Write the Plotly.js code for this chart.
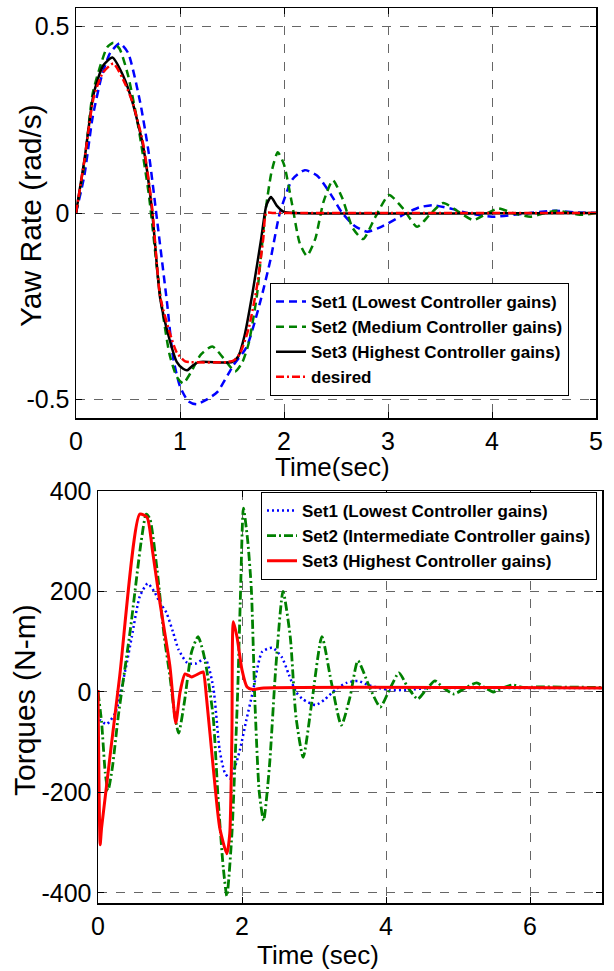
<!DOCTYPE html>
<html>
<head>
<meta charset="utf-8">
<script src="https://cdn.plot.ly/plotly-3.0.1.min.js"></script>
<style>html,body{margin:0;padding:0;background:#fff;}#chart{width:614px;height:971px;}</style>
</head>
<body>
<div id="chart"></div>
<script>
// ---------- Top chart: yaw rate (rad/s) ----------
const yawTickVals = [-0.5, 0, 0.5];
const yawTickText = ['-0.5', '0', '0.5'];
const timeTicksTop = [0, 1, 2, 3, 4, 5];

const set1YawT = [0,0.08,0.16,0.25,0.33,0.42,0.5,0.615,0.7,0.78,0.875,0.935,1.0,1.08,1.16,1.26,1.36,1.51,1.64,1.77,1.87,1.96,2.08,2.2,2.32,2.45,2.56,2.68,2.8,2.95,3.18,3.3,3.43,3.6,3.76,4.0,4.3,4.6,4.8,5];
const set1YawV = [0,0.1,0.257,0.37,0.43,0.455,0.43,0.30,0.16,-0.02,-0.24,-0.39,-0.465,-0.505,-0.513,-0.5,-0.48,-0.41,-0.36,-0.24,-0.125,0,0.09,0.115,0.1,0.05,0,-0.035,-0.05,-0.035,0,0.015,0.021,0.012,0,-0.01,-0.002,0.006,0.002,0];

const set2YawT = [0,0.08,0.16,0.24,0.30,0.36,0.42,0.5,0.6,0.7,0.8,0.9,0.97,1.03,1.1,1.2,1.31,1.42,1.53,1.6,1.66,1.74,1.82,1.88,1.94,2.0,2.08,2.15,2.22,2.3,2.38,2.47,2.56,2.66,2.76,2.88,3.01,3.15,3.28,3.4,3.53,3.68,3.82,3.94,4.06,4.2,4.37,4.5,4.62,4.75,4.87,5];
const set2YawV = [0,0.13,0.32,0.40,0.445,0.457,0.44,0.37,0.23,0.05,-0.2,-0.38,-0.44,-0.457,-0.43,-0.38,-0.358,-0.39,-0.425,-0.40,-0.35,-0.22,0,0.11,0.163,0.13,0.02,-0.08,-0.115,-0.07,0.03,0.088,0.04,-0.04,-0.07,-0.01,0.048,0.01,-0.037,-0.005,0.027,0.003,-0.019,-0.003,0.012,0,-0.01,-0.001,0.006,0,-0.005,0];

const set3YawT = [0,0.08,0.17,0.26,0.35,0.45,0.54,0.645,0.73,0.81,0.90,0.97,1.03,1.07,1.12,1.18,1.50,1.56,1.62,1.70,1.78,1.83,1.875,1.93,2.0,2.1,5];
const set3YawV = [0,0.14,0.32,0.395,0.417,0.37,0.30,0.18,0.01,-0.23,-0.34,-0.40,-0.418,-0.422,-0.41,-0.40,-0.40,-0.385,-0.33,-0.21,-0.07,0.02,0.043,0.02,0.003,0,0];

const desiredT = [0,0.08,0.17,0.26,0.36,0.45,0.54,0.645,0.73,0.81,0.90,0.97,1.05,1.1,1.45,1.52,1.58,1.66,1.74,1.80,1.83,1.9,5];
const desiredV = [0,0.14,0.31,0.377,0.401,0.36,0.30,0.187,0.02,-0.225,-0.32,-0.375,-0.398,-0.40,-0.40,-0.395,-0.375,-0.31,-0.197,-0.07,0,0,0];

// ---------- Bottom chart: torques (N-m) ----------
const torqueTickVals = [-400, -200, 0, 200, 400];
const torqueTickText = ['-400', '-200', '0', '200', '400'];
const timeTicksBottom = [0, 2, 4, 6];

const set1TqT = [0,0.03,0.12,0.24,0.38,0.47,0.58,0.69,0.78,0.86,0.95,1.04,1.12,1.24,1.35,1.49,1.6,1.69,1.76,1.83,1.9,1.97,2.06,2.15,2.28,2.42,2.55,2.65,2.75,2.85,3.02,3.15,3.3,3.45,3.61,3.75,3.9,4.05,4.29,4.6,5,7];
const set1TqV = [-45,-56,-64,-42,44,110,190,216,200,178,158,120,84,58,56,66,10,-116,-160,-172,-150,-116,-56,0,80,88,70,35,0,-15,-26,-15,5,18,22,14,8,4,4,8,8,8];

const set2TqT = [0,0.05,0.1,0.14,0.2,0.28,0.45,0.6,0.67,0.72,0.82,0.92,1.0,1.07,1.12,1.2,1.3,1.39,1.46,1.51,1.6,1.67,1.74,1.79,1.86,1.9,1.94,1.98,2.02,2.08,2.13,2.18,2.24,2.3,2.38,2.47,2.57,2.67,2.75,2.85,2.97,3.11,3.24,3.38,3.5,3.61,3.77,3.92,4.05,4.18,4.3,4.44,4.56,4.68,4.8,4.94,5.1,5.26,5.38,5.49,5.62,5.76,5.9,6.1,7];
const set2TqV = [0,-60,-160,-196,-150,-50,125,300,354,345,244,110,30,-50,-82,-20,80,110,80,44,-50,-216,-350,-406,-282,-150,0,200,366,300,204,-22,-200,-256,-150,50,200,110,-50,-130,-20,110,20,-66,-10,62,10,-30,5,38,10,-14,5,22,8,-4,8,18,8,0,8,14,9,10,9];

const set3TqT = [0,0.015,0.03,0.05,0.3,0.58,0.68,0.76,0.86,1.0,1.08,1.14,1.21,1.3,1.42,1.46,1.51,1.6,1.69,1.79,1.83,1.86,1.88,1.93,2.0,2.07,2.15,2.3,7];
const set3TqV = [4,-200,-304,-270,30,354,348,278,178,50,-62,0,36,30,38,40,-16,-150,-270,-322,-282,-82,140,110,44,10,5,8,8];

const FONT = 'Arial, "Liberation Sans", sans-serif';

const traces = [
  {x:set1YawT, y:set1YawV, name:'Set1 (Lowest Controller gains)', xaxis:'x', yaxis:'y', mode:'lines',
   line:{color:'#0000FF', width:2.5, dash:'8px,5px', shape:'spline', smoothing:0.6}, legend:'legend'},
  {x:set2YawT, y:set2YawV, name:'Set2 (Medium Controller gains)', xaxis:'x', yaxis:'y', mode:'lines',
   line:{color:'#008000', width:2.5, dash:'8px,5px', shape:'spline', smoothing:0.6}, legend:'legend'},
  {x:set3YawT, y:set3YawV, name:'Set3 (Highest Controller gains)', xaxis:'x', yaxis:'y', mode:'lines',
   line:{color:'#000000', width:2.5, shape:'spline', smoothing:0.6}, legend:'legend'},
  {x:desiredT, y:desiredV, name:'desired', xaxis:'x', yaxis:'y', mode:'lines',
   line:{color:'#FF0000', width:2.5, dash:'8px,3px,2px,3px', shape:'spline', smoothing:0.6}, legend:'legend'},

  {x:set1TqT, y:set1TqV, name:'Set1 (Lowest Controller gains)', xaxis:'x2', yaxis:'y2', mode:'lines',
   line:{color:'#0000FF', width:2.5, dash:'2px,3px', shape:'spline', smoothing:0.6}, legend:'legend2'},
  {x:set2TqT, y:set2TqV, name:'Set2 (Intermediate Controller gains)', xaxis:'x2', yaxis:'y2', mode:'lines',
   line:{color:'#008000', width:2.8, dash:'9px,3px,2px,3px', shape:'spline', smoothing:0.6}, legend:'legend2'},
  {x:set3TqT, y:set3TqV, name:'Set3 (Highest Controller gains)', xaxis:'x2', yaxis:'y2', mode:'lines',
   line:{color:'#FF0000', width:3, shape:'spline', smoothing:0.6}, legend:'legend2'}
];

function axisStyle(extra){
  return Object.assign({
    showgrid:true, gridcolor:'#666666', griddash:'dash', gridwidth:1,
    zeroline:false, showline:true, mirror:'ticks', linecolor:'#000', linewidth:1.5,
    ticks:'inside', ticklen:6, tickcolor:'#000', tickwidth:1,
    tickfont:{family:FONT, size:25, color:'#000'}, automargin:false, fixedrange:true
  }, extra);
}

const W = 614, H = 971;
const layout = {
  width:W, height:H, margin:{l:0, r:0, t:0, b:0},
  paper_bgcolor:'#fff', plot_bgcolor:'#fff',
  font:{family:FONT, color:'#000'},
  showlegend:true,
  xaxis: axisStyle({domain:[76/W, 596/W], anchor:'y', range:[0,5], tickvals:timeTicksTop, ticktext:timeTicksTop.map(String)}),
  yaxis: axisStyle({domain:[1-418/H, 1-8/H], anchor:'x', range:[-0.55,0.55], tickvals:yawTickVals, ticktext:yawTickText}),
  xaxis2: axisStyle({domain:[98/W, 602/W], anchor:'y2', range:[0,7], tickvals:timeTicksBottom, ticktext:timeTicksBottom.map(String)}),
  yaxis2: axisStyle({domain:[1-903/H, 1-491/H], anchor:'x2', range:[-420,400], tickvals:torqueTickVals, ticktext:torqueTickText}),
  legend:{x:270/W, y:1-283/H, xanchor:'left', yanchor:'top', bgcolor:'#fff', bordercolor:'#000', borderwidth:1,
    font:{family:FONT, size:17, weight:'bold', color:'#000'}, tracegroupgap:0},
  legend2:{x:261/W, y:1-492/H, xanchor:'left', yanchor:'top', bgcolor:'#fff', bordercolor:'#000', borderwidth:1,
    font:{family:FONT, size:17, weight:'bold', color:'#000'}, tracegroupgap:0},
  annotations:[
    {text:'Yaw Rate (rad/s)', xref:'paper', yref:'paper', x:30/W, y:1-216/H, xanchor:'center', yanchor:'middle', textangle:-90, showarrow:false, font:{family:FONT, size:30, color:'#000'}},
    {text:'Time(sec)', xref:'paper', yref:'paper', x:332/W, y:1-467/H, xanchor:'center', yanchor:'middle', showarrow:false, font:{family:FONT, size:26, color:'#000'}},
    {text:'Torques (N-m)', xref:'paper', yref:'paper', x:24/W, y:1-700/H, xanchor:'center', yanchor:'middle', textangle:-90, showarrow:false, font:{family:FONT, size:30, color:'#000'}},
    {text:'Time (sec)', xref:'paper', yref:'paper', x:318/W, y:1-955/H, xanchor:'center', yanchor:'middle', showarrow:false, font:{family:FONT, size:26, color:'#000'}}
  ]
};

Plotly.newPlot('chart', traces, layout, {staticPlot:true, displayModeBar:false});
</script>
</body>
</html>
